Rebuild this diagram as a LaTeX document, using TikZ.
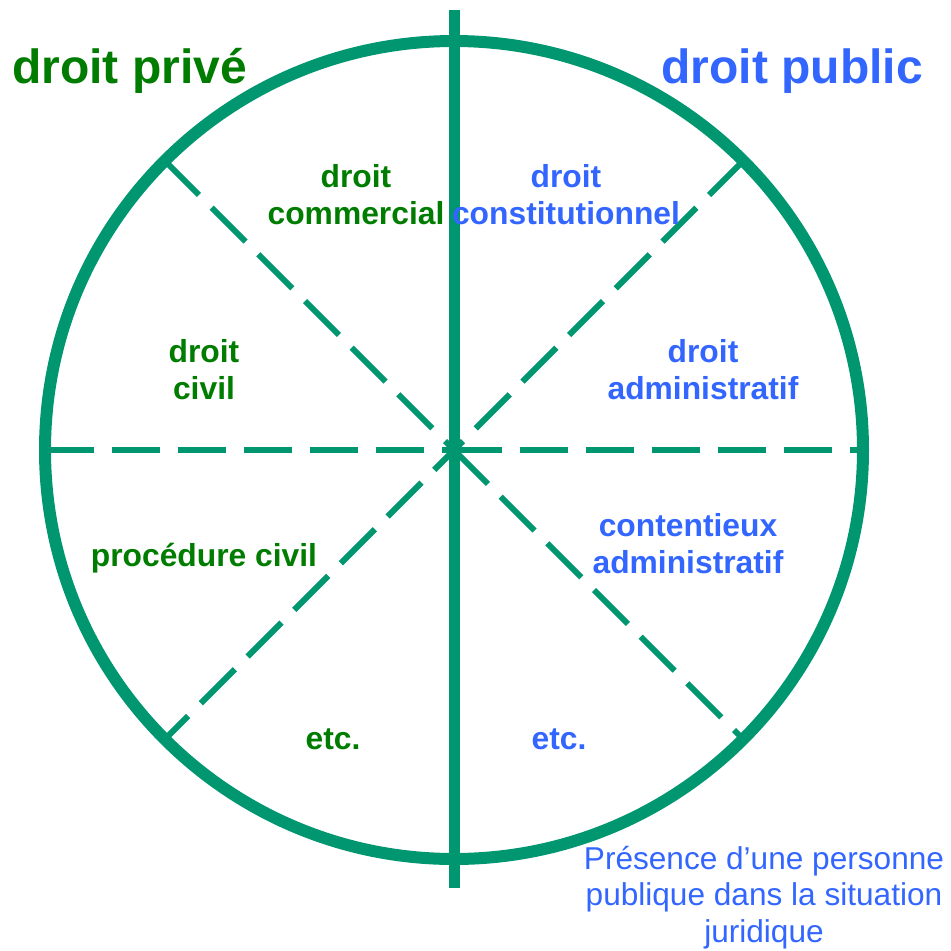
\documentclass[tikz,border=0pt]{standalone}
\usepackage{fontspec}
\setmainfont{Liberation Sans}
\definecolor{ringgreen}{RGB}{0,150,112}
\definecolor{txtgreen}{RGB}{0,125,0}
\definecolor{txtblue}{RGB}{51,102,255}
\begin{document}
\begin{tikzpicture}[x=1pt,y=-1pt,
  ring/.style={draw=ringgreen,line width=12pt},
  axis/.style={draw=ringgreen,line width=11pt},
  sector/.style={draw=ringgreen,line width=6pt,dash pattern=on 48pt off 18pt},
  title/.style={font=\fontsize{48}{55}\selectfont\bfseries},
  lab/.style={font=\fontsize{31.8}{37}\selectfont\bfseries,align=center,anchor=base,inner sep=0pt},
  note/.style={font=\fontsize{31.6}{36.5}\selectfont,align=center,anchor=base,inner sep=0pt,text=txtblue}]
\useasboundingbox (0,0) rectangle (951,951);
\coordinate (c) at (454,450);
% boundary points
\coordinate (pw) at (46,450);
\coordinate (pe) at (862,450);
\coordinate (pnw) at (165,161);
\coordinate (pne) at (743,161);
\coordinate (psw) at (165,739);
\coordinate (pse) at (743,739);
\coordinate (vtop) at (454,10);
\coordinate (vbot) at (454,888);
% dashed sector lines
\draw[sector] (pw) -- (c);
\draw[sector] (c) -- (pe);
\draw[sector] (pnw) -- (c);
\draw[sector] (c) -- (pse);
\draw[sector] (pne) -- (c);
\draw[sector,dash phase=20pt] (c) -- (psw);
% ring and axis
\draw[ring] (c) circle[radius=409];
\draw[axis] (vtop) -- (vbot);
% titles
\node[title,text=txtgreen,anchor=base west,inner sep=0pt] (tpriv) at (12,83) {droit privé};
\node[title,text=txtblue,anchor=base east,inner sep=0pt] (tpub) at (923,83) {droit public};
% green labels
\node[lab,text=txtgreen] (comm) at (356,224) {droit\\commercial};
\node[lab,text=txtgreen] (civ) at (204,399) {droit\\civil};
\node[lab,text=txtgreen] (proc) at (204,566) {procédure civil};
\node[lab,text=txtgreen] (etcl) at (333,749) {etc.};
% blue labels
\node[lab,text=txtblue] (const) at (566,224) {droit\\constitutionnel};
\node[lab,text=txtblue] (adm) at (703,399) {droit\\administratif};
\node[lab,text=txtblue] (cont) at (688,573) {contentieux\\administratif};
\node[lab,text=txtblue] (etcr) at (559,749) {etc.};
% note
\node[note] (pres) at (764,942) {Présence d’une personne\\publique dans la situation\\juridique};
\end{tikzpicture}
\end{document}
